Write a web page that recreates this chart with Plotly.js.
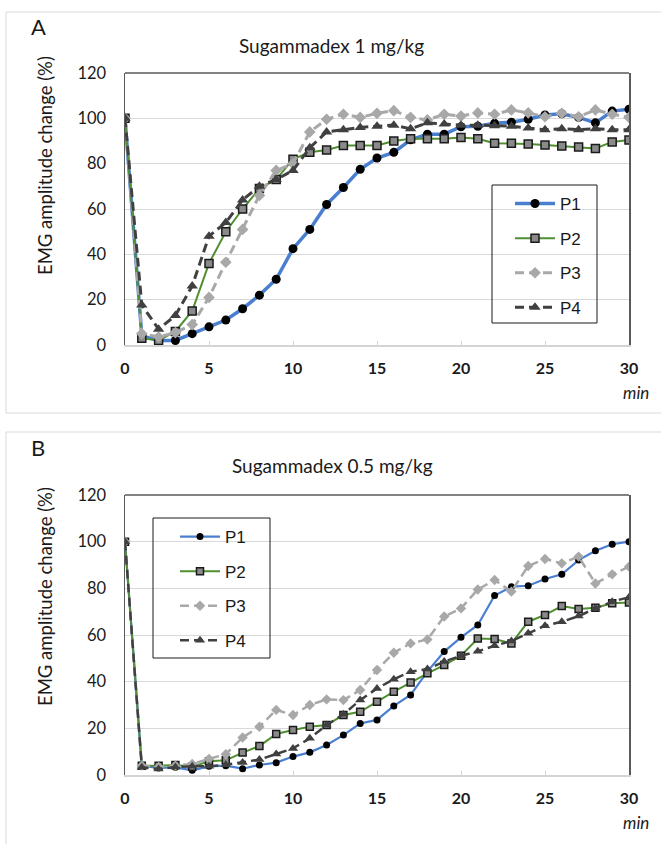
<!DOCTYPE html>
<html>
<head>
<meta charset="utf-8">
<script src="https://cdn.plot.ly/plotly-3.0.1.min.js"></script>
<style>
  html, body { margin: 0; padding: 0; background: #fff; }
  #chart { width: 661px; height: 844px; }
</style>
</head>
<body>
<div id="chart"></div>
<script>
// ---- data ----
const minutes = [0,1,2,3,4,5,6,7,8,9,10,11,12,13,14,15,16,17,18,19,20,21,22,23,24,25,26,27,28,29,30];
const seriesNames = ["P1", "P2", "P3", "P4"];
const xTicks = [0, 5, 10, 15, 20, 25, 30];
const yTicks = [0, 20, 40, 60, 80, 100, 120];

// Panel A: Sugammadex 1 mg/kg
const a_P1 = [100, 4, 2, 2, 5, 8, 11, 16, 22, 29, 42.5, 51, 62, 69.5, 77.5, 82.5, 85, 90.5, 93, 93, 96.3, 96.5, 97.8, 98.3, 99.6, 101.5, 102, 100.4, 98, 103.2, 104];
const a_P2 = [100, 3, 2, 6, 15, 36, 50, 60, 69, 73, 82, 85, 86, 88, 88, 88, 90, 91, 91, 91, 91.5, 91, 89, 89, 88.7, 88.2, 87.8, 87.4, 86.7, 89.6, 90.4];
const a_P3 = [100, 5, 3.5, 5.5, 9, 21, 36.5, 51, 66, 77, 80, 94, 99.6, 101.8, 100.4, 102.2, 103.4, 100.4, 99.3, 101.8, 101, 102.4, 101.8, 103.7, 102.4, 100.7, 102.2, 100.7, 103.7, 101.8, 100.4];
const a_P4 = [100, 17.6, 7, 13, 26, 48, 54, 64, 70, 73, 77, 87, 94, 95, 96, 96.5, 97, 95.4, 98, 97.5, 97, 97, 96.7, 96.5, 95.7, 95, 95.4, 95, 95.4, 95, 95];

// Panel B: Sugammadex 0.5 mg/kg
const b_P1 = [100, 4, 3, 3.3, 2, 3.7, 4, 2.7, 4.3, 5.3, 7.9, 9.7, 12.9, 17.1, 22.1, 23.6, 29.6, 34.3, 44.3, 52.9, 59, 64.3, 76.9, 80.7, 81.1, 84, 86, 92.1, 96.1, 98.9, 100];
const b_P2 = [100, 4, 4, 4.3, 3.5, 5.9, 6.3, 9.6, 12.4, 17.6, 19.3, 20.7, 21.4, 25.7, 27.1, 31.4, 35.7, 39.6, 43.6, 47.1, 51.1, 58.5, 58.3, 56.4, 65.7, 68.6, 72.4, 71.1, 71.7, 73.6, 73.9];
const b_P3 = [100, 4, 3.5, 4, 4.7, 6.9, 8.9, 16.1, 20.7, 27.9, 25.7, 30, 32.4, 32.1, 36.4, 45, 52.4, 56.4, 58.1, 67.9, 71.4, 79.5, 83.6, 78.6, 89.6, 92.6, 90.7, 93.6, 82.1, 86, 89.3];
const b_P4 = [100, 3.3, 2.6, 3.4, 3.7, 3.7, 4.4, 5.4, 6.6, 9, 11.4, 15.7, 21.4, 26, 32.1, 37.1, 41, 44.3, 45.4, 48.6, 51.1, 53, 55.4, 57.4, 60.7, 64, 65.7, 68.1, 71.4, 74.3, 76.2];

// ---- styles ----
const W = 661, H = 844;
const px = v => v / W;
const py = v => 1 - v / H;

function styles(panel) {
  const big = panel === 'A';
  return [
    {line: {color: '#4a7fcf', width: big ? 3.5 : 2.2}, marker: {symbol: 'circle', color: '#000', size: big ? 9 : 7}},
    {line: {color: '#4f8f30', width: 2}, marker: {symbol: 'square', color: '#8a8a8a', size: big ? 8 : 7, line: {color: '#1a1a1a', width: 1.5}}},
    {line: {color: '#a8a8a8', width: big ? 3 : 2.5, dash: '9px,5px'}, marker: {symbol: 'diamond', color: '#a8a8a8', size: big ? 9 : 8}},
    {line: {color: '#404040', width: big ? 3 : 2.5, dash: '9px,5px'}, marker: {symbol: 'triangle-up', color: '#404040', size: big ? 10 : 9}}
  ];
}

const dataA = [a_P1, a_P2, a_P3, a_P4];
const dataB = [b_P1, b_P2, b_P3, b_P4];
const traces = [];
const stA = styles('A'), stB = styles('B');
dataA.forEach((ys, i) => traces.push({
  x: minutes, y: ys, name: seriesNames[i], type: 'scatter', mode: 'lines+markers',
  xaxis: 'x', yaxis: 'y', legend: 'legend', legendgroup: 'a' + i,
  line: stA[i].line, marker: stA[i].marker
}));
dataB.forEach((ys, i) => traces.push({
  x: minutes, y: ys, name: seriesNames[i], type: 'scatter', mode: 'lines+markers',
  xaxis: 'x2', yaxis: 'y2', legend: 'legend2', legendgroup: 'b' + i,
  line: stB[i].line, marker: stB[i].marker
}));

const xDomain = [px(125), px(629)];
const yDomA = [py(345), py(73)];
const yDomB = [py(775), py(495)];

const xCommon = {
  range: [0, 30], tickvals: xTicks, showgrid: false, zeroline: false,
  showline: true, linecolor: '#d4d4d4', linewidth: 1.5,
  ticks: 'inside', ticklen: 4, tickcolor: '#d4d4d4',
  tickfont: {family: 'Lato, sans-serif', size: 16, color: '#1a1a1a', weight: 'bold'},
  ticklabelstandoff: 8, automargin: false, fixedrange: true
};
const yCommon = {
  range: [0, 120], tickvals: yTicks, showgrid: true, gridcolor: '#d9d9d9', gridwidth: 1,
  zeroline: false, showline: true, mirror: true, linecolor: '#5a5a5a', linewidth: 1.5,
  ticks: '', tickfont: {family: 'Lato, sans-serif', size: 16.5, color: '#1a1a1a'},
  ticklabelstandoff: 14, automargin: false, fixedrange: true
};

const legendCommon = {
  bgcolor: 'rgba(0,0,0,0)', borderwidth: 0, traceorder: 'grouped', tracegroupgap: 9.5,
  itemwidth: 40, xanchor: 'left', yanchor: 'top',
  font: {family: 'Liberation Sans, Arial, sans-serif', size: 17, color: '#1a1a1a'}
};

function note(text, x, y, size, extra) {
  return Object.assign({
    text: text, xref: 'paper', yref: 'paper', x: px(x), y: py(y),
    xanchor: 'center', yanchor: 'middle', showarrow: false,
    font: {family: 'Lato, sans-serif', size: size, color: '#1a1a1a'}
  }, extra || {});
}

const layout = {
  width: W, height: H,
  margin: {l: 0, r: 0, t: 0, b: 0},
  paper_bgcolor: '#fff', plot_bgcolor: '#fff',
  showlegend: true,
  xaxis: Object.assign({domain: xDomain, anchor: 'y'}, xCommon),
  yaxis: Object.assign({domain: yDomA, anchor: 'x'}, yCommon),
  xaxis2: Object.assign({domain: xDomain, anchor: 'y2'}, xCommon),
  yaxis2: Object.assign({domain: yDomB, anchor: 'x2'}, yCommon),
  legend: Object.assign({x: px(510), y: py(186)}, legendCommon),
  legend2: Object.assign({x: px(175), y: py(519)}, legendCommon),
  shapes: [
    // panel frames
    {type: 'rect', xref: 'paper', yref: 'paper', x0: px(6), x1: px(670), y0: py(413), y1: py(12), line: {color: '#d9d9d9', width: 1}},
    {type: 'rect', xref: 'paper', yref: 'paper', x0: px(6), x1: px(670), y0: py(860), y1: py(432), line: {color: '#d9d9d9', width: 1}},
    // plot area top borders
    {type: 'line', xref: 'x domain', yref: 'y domain', x0: 0, x1: 1, y0: 1, y1: 1, line: {color: '#5a5a5a', width: 1.5}},
    {type: 'line', xref: 'x2 domain', yref: 'y2 domain', x0: 0, x1: 1, y0: 1, y1: 1, line: {color: '#5a5a5a', width: 1.5}},
    // legend boxes
    {type: 'rect', xref: 'paper', yref: 'paper', x0: px(492), x1: px(597), y0: py(323), y1: py(185), line: {color: '#1a1a1a', width: 1}},
    {type: 'rect', xref: 'paper', yref: 'paper', x0: px(153), x1: px(270), y0: py(658), y1: py(518), line: {color: '#1a1a1a', width: 1}}
  ],
  annotations: [
    note('A', 38, 26, 22),
    note('B', 38, 447, 22),
    note('Sugammadex 1 mg/kg', 331, 46, 19),
    note('Sugammadex 0.5 mg/kg', 332, 465, 19),
    note('EMG amplitude change (%)', 45, 166, 18.5, {textangle: -90}),
    note('EMG amplitude change (%)', 45, 597, 18.5, {textangle: -90}),
    note('<i>min</i>', 636, 393, 17),
    note('<i>min</i>', 636, 822, 17)
  ]
};

Plotly.newPlot('chart', traces, layout, {displayModeBar: false, staticPlot: true});
</script>
</body>
</html>
